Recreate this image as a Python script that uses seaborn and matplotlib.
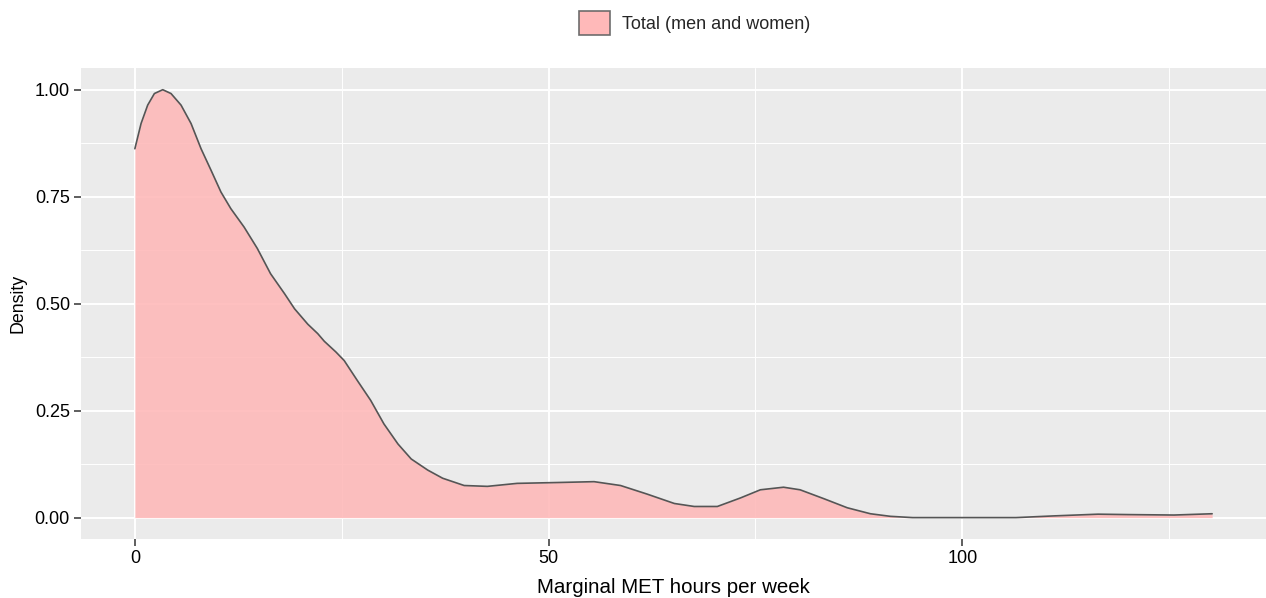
import numpy as np
import pandas as pd
import matplotlib
matplotlib.use("Agg")
import matplotlib.pyplot as plt
import seaborn as sns
from matplotlib.patches import Patch
from matplotlib.ticker import FixedLocator

# ---- data ----
met_hours = [0.0, 0.75, 1.55, 2.36, 3.37, 4.37, 5.58, 6.79, 8.0, 9.2, 10.4, 11.6,
             13.2, 14.8, 16.4, 18.1, 19.3, 20.9, 22.1, 22.9, 24.3, 25.3, 26.9,
             28.5, 30.1, 31.8, 33.4, 35.4, 37.2, 39.8, 42.6, 46.2, 51.1, 55.5,
             58.7, 61.9, 65.2, 67.6, 70.4, 73.2, 75.6, 78.4, 80.4, 83.3, 86.1,
             88.9, 91.3, 94.0, 106.5, 111.1, 116.4, 120.3, 125.6, 130.2]
density = [0.862, 0.921, 0.964, 0.991, 1.000, 0.991, 0.964, 0.921, 0.862, 0.812,
           0.761, 0.722, 0.679, 0.629, 0.570, 0.523, 0.488, 0.452, 0.430, 0.412,
           0.387, 0.367, 0.320, 0.274, 0.219, 0.172, 0.137, 0.111, 0.092, 0.075,
           0.073, 0.080, 0.082, 0.084, 0.075, 0.055, 0.033, 0.026, 0.026, 0.046,
           0.065, 0.071, 0.065, 0.044, 0.023, 0.009, 0.003, 0.000, 0.000, 0.004,
           0.008, 0.007, 0.006, 0.009]
series_label = "Total (men and women)"
x_ticks = [0, 50, 100]
x_minor = [25, 75, 125]
y_ticks = [0.0, 0.25, 0.50, 0.75, 1.00]
y_tick_labels = ["0.00", "0.25", "0.50", "0.75", "1.00"]
y_minor = [0.125, 0.375, 0.625, 0.875]
x_title = "Marginal MET hours per week"
y_title = "Density"

sns.set_theme(style="darkgrid")
plt.rcParams["font.family"] = ["Liberation Sans", "DejaVu Sans"]

df = pd.DataFrame({"x": met_hours, "y": density, "group": series_label})

W, H = 1266, 598
fig = plt.figure(figsize=(W / 100, H / 100), dpi=100)
fig.patch.set_facecolor("white")
left, right, top, bottom = 81, 1266, 68.3, 539
ax = fig.add_axes([left / W, 1 - bottom / H, (right - left) / W, (bottom - top) / H])
ax.set_facecolor("#EBEBEB")

fill_color = "#FFB6B6"
ax.fill_between(df["x"], 0, df["y"], color=fill_color, alpha=0.85, lw=0, zorder=1)
sns.lineplot(data=df, x="x", y="y", ax=ax, color="#555555", lw=1.2,
             estimator=None, legend=False, zorder=2,
             solid_joinstyle="round", solid_capstyle="round")

xmax = max(met_hours)
ax.set_xlim(-0.05 * xmax, xmax * 1.05)
ax.set_ylim(-0.05, 1.05)

ax.set_xticks(x_ticks)
ax.set_xticklabels([str(t) for t in x_ticks])
ax.set_yticks(y_ticks)
ax.set_yticklabels(y_tick_labels)
ax.xaxis.set_minor_locator(FixedLocator(x_minor))
ax.yaxis.set_minor_locator(FixedLocator(y_minor))

ax.grid(which="major", color="white", lw=1.4)
ax.grid(which="minor", color="white", lw=0.7)
ax.set_axisbelow(True)
for s in ax.spines.values():
    s.set_visible(False)

ax.tick_params(which="major", length=5, width=1.1, color="#333333",
               labelsize=13, labelcolor="black", pad=3,
               bottom=True, left=True)
ax.tick_params(which="minor", length=0)

ax.set_xlabel(x_title, fontsize=14.8, labelpad=8, color="black")
ax.set_ylabel(y_title, fontsize=12.8, labelpad=6, color="black")

handle = Patch(facecolor=fill_color, edgecolor="#666666", linewidth=1.2, alpha=0.95)
fig.legend([handle], [series_label], loc="center",
           bbox_to_anchor=(694.5 / W, 1 - 23 / H), frameon=False,
           fontsize=13, handlelength=1.7, handleheight=1.7,
           handletextpad=0.65, borderpad=0)

fig.savefig("out.png", dpi=100)
